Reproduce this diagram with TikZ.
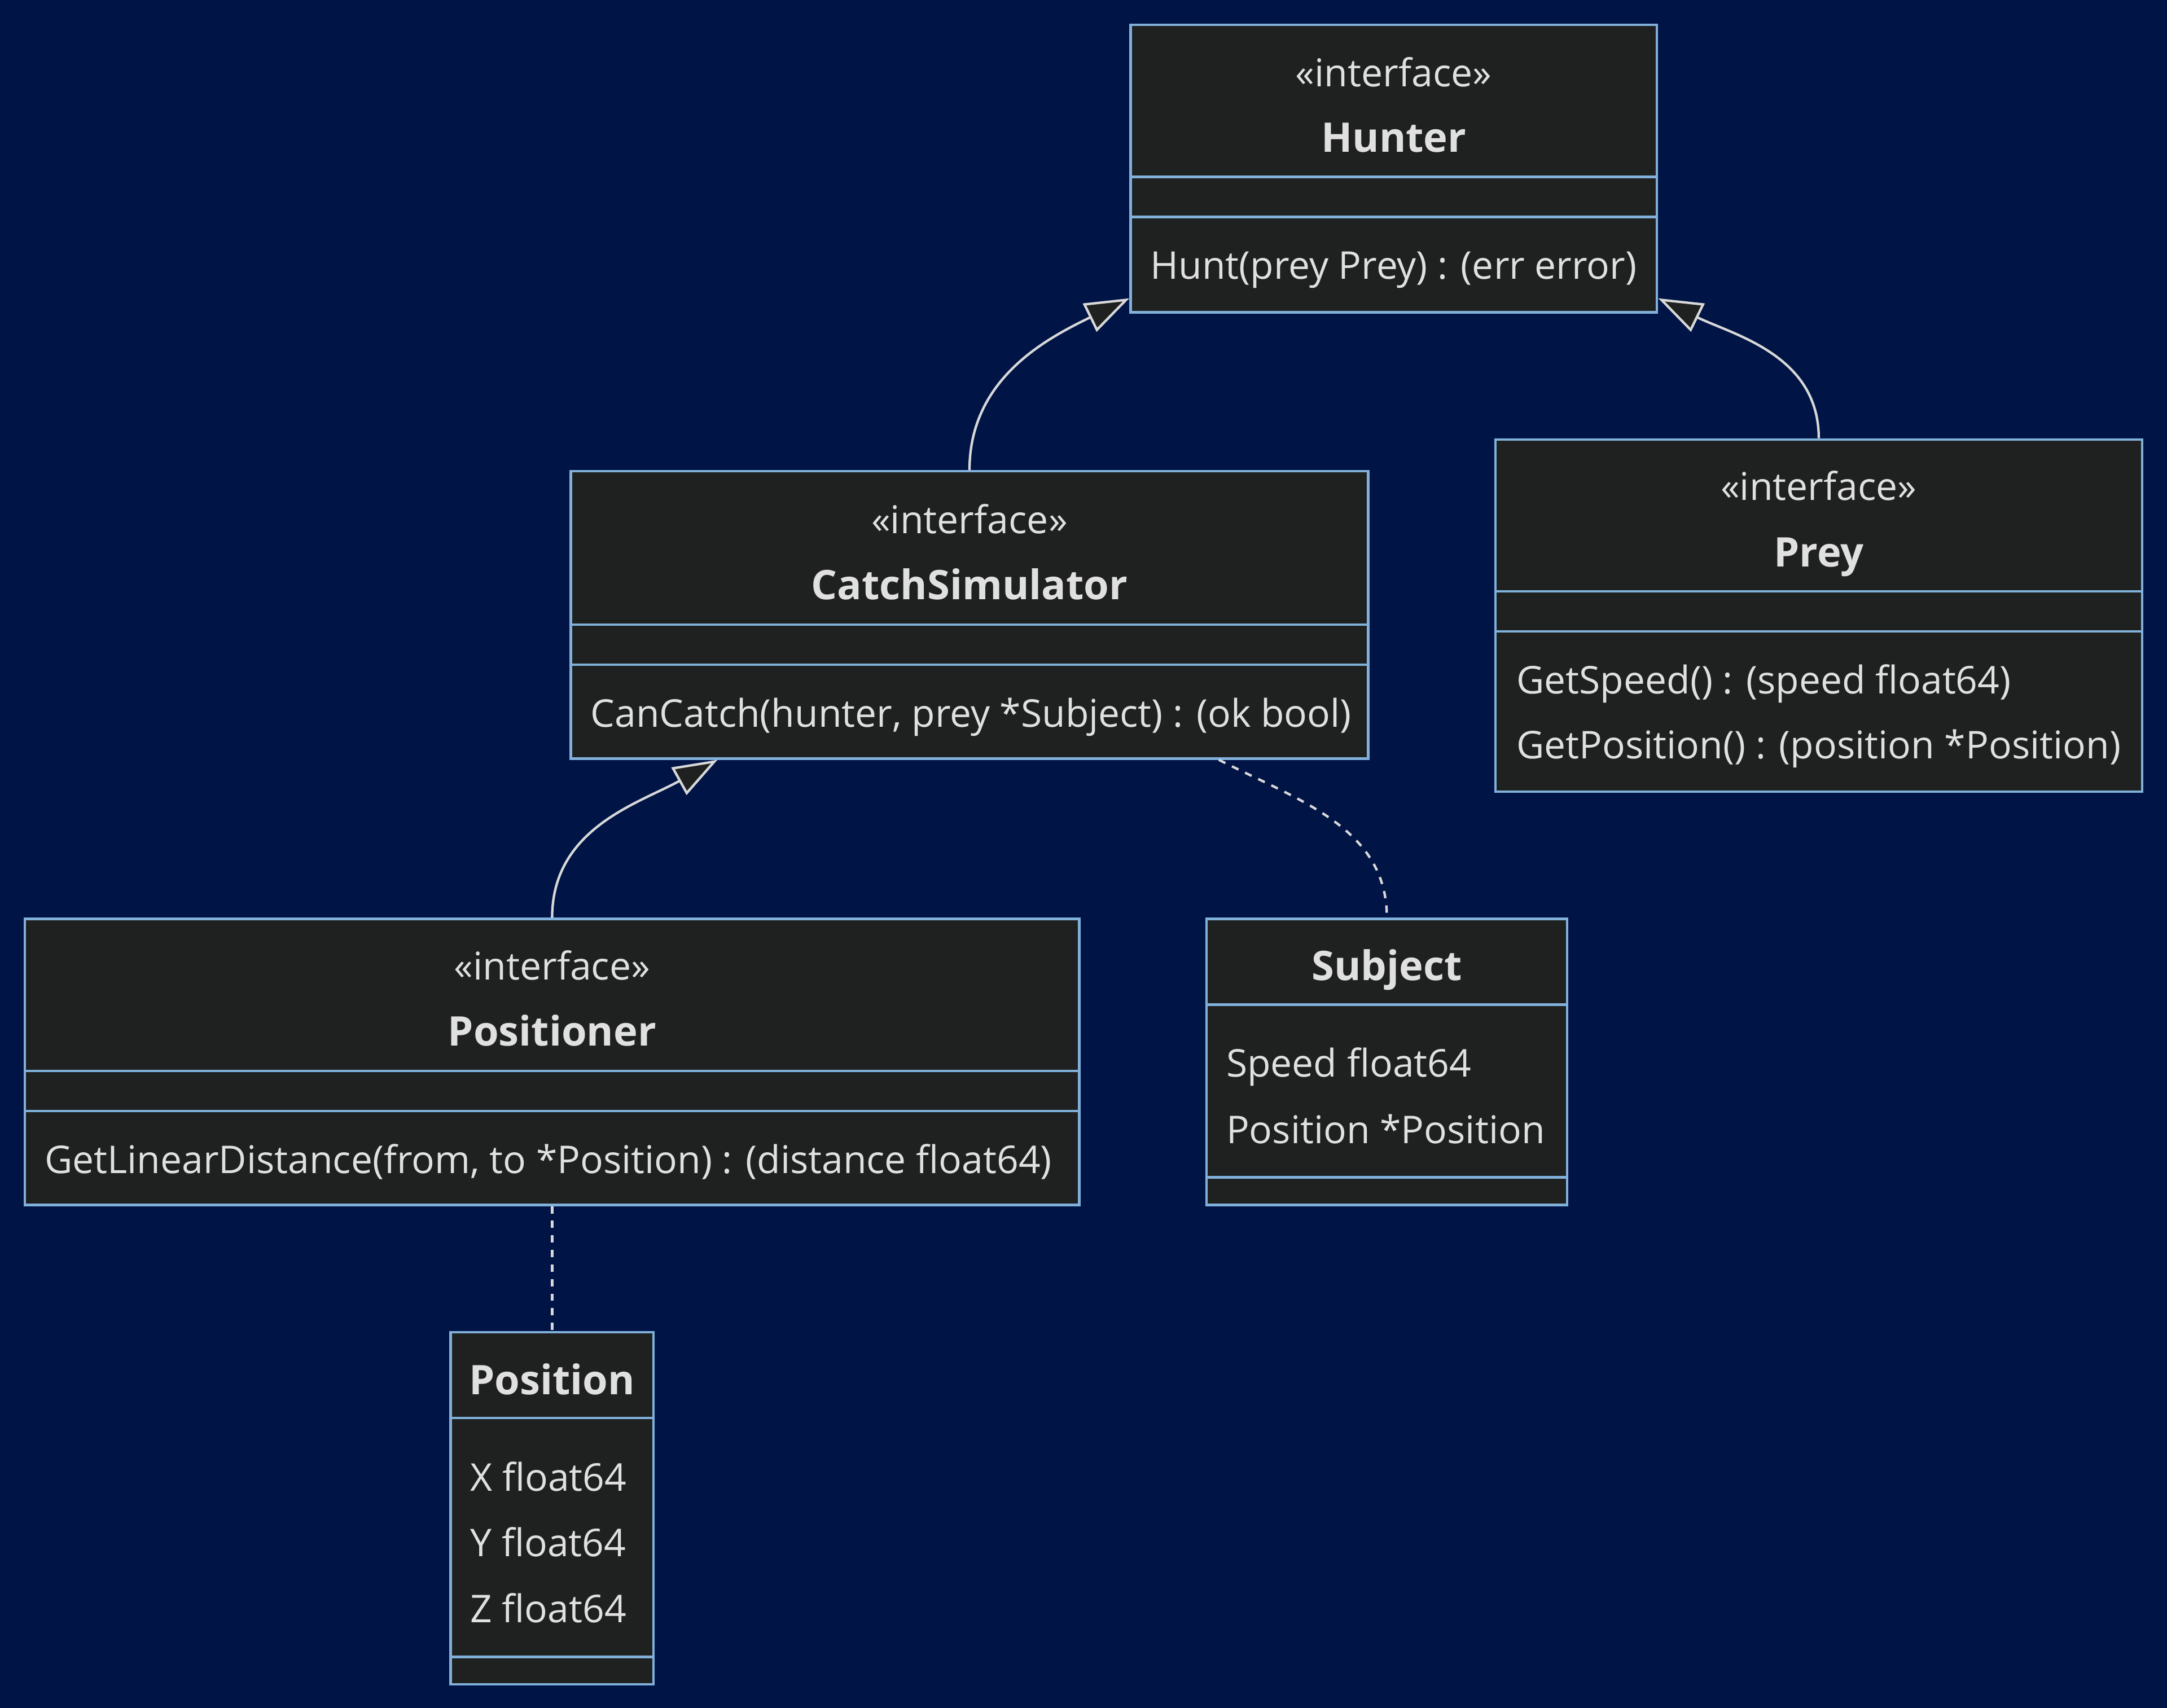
\documentclass[tikz,border=0pt]{standalone}
\usepackage{fontspec}
\setmainfont{Open Sans}
\usetikzlibrary{arrows.meta}

\definecolor{bgnavy}{HTML}{001446}
\definecolor{boxfill}{HTML}{1F2020}
\definecolor{boxline}{HTML}{81B1DB}
\definecolor{txtgray}{HTML}{E0E0E0}
\definecolor{edgegray}{HTML}{D8D8D8}

\tikzset{
  classbox/.style={rectangle, draw=boxline, fill=boxfill, line width=1pt, inner sep=0pt},
  divider/.style={draw=boxline, line width=1pt},
  stereo/.style={text=txtgray, inner sep=0pt, anchor=base, font=\fontsize{15.8}{19}\selectfont},
  classname/.style={stereo, font=\fontsize{16.8}{20}\selectfont\bfseries},
  member/.style={text=txtgray, inner sep=0pt, anchor=base west, font=\fontsize{15.75}{19}\selectfont},
  realize/.style={draw=edgegray, line width=1pt, -{Triangle[length=0.64cm, width=0.45cm, fill=boxfill]}},
  assoc/.style={draw=edgegray, line width=1pt, dash pattern=on 3pt off 3pt}
}

\begin{document}
\begin{tikzpicture}[x=0.02cm, y=-0.02cm]

% Background
\fill[bgnavy] (0,0) rectangle (1568,1236);
\useasboundingbox (0,0) rectangle (1568,1236);

% Hunter
\node[classbox, minimum width=7.62cm, minimum height=4.16cm] (hunter) at (1008.5,122) {};
\draw[divider] (818,128) -- (1199,128);
\draw[divider] (818,157) -- (1199,157);
\node[stereo] (hunterStereo) at (1008.5,62.5) {«interface»};
\node[classname] (hunterName) at (1008.5,110) {Hunter};
\node[member] (hunterHunt) at (832,202) {Hunt(prey Prey) : (err error)};

% CatchSimulator
\node[classbox, minimum width=11.54cm, minimum height=4.16cm] (catch) at (701.5,445) {};
\draw[divider] (413,452) -- (990,452);
\draw[divider] (413,481) -- (990,481);
\node[stereo] (catchStereo) at (701.5,386) {«interface»};
\node[classname] (catchName) at (701.5,434) {CatchSimulator};
\node[member] (catchCanCatch) at (427,526) {CanCatch(hunter, prey *Subject) : (ok bool)};

% Prey
\node[classbox, minimum width=9.36cm, minimum height=5.10cm] (prey) at (1316,445.5) {};
\draw[divider] (1082,428) -- (1550,428);
\draw[divider] (1082,457) -- (1550,457);
\node[stereo] (preyStereo) at (1316,362) {«interface»};
\node[classname] (preyName) at (1316,410) {Prey};
\node[member] (preySpeed) at (1097,502) {GetSpeed() : (speed float64)};
\node[member] (preyPosition) at (1097,549) {GetPosition() : (position *Position)};

% Positioner
\node[classbox, minimum width=15.26cm, minimum height=4.14cm] (positioner) at (399.5,768.5) {};
\draw[divider] (18,775) -- (781,775);
\draw[divider] (18,804) -- (781,804);
\node[stereo] (positionerStereo) at (399.5,709) {«interface»};
\node[classname] (positionerName) at (399.5,757) {Positioner};
\node[member] (positionerDist) at (32,849) {GetLinearDistance(from, to *Position) : (distance float64)};

% Subject
\node[classbox, minimum width=5.22cm, minimum height=4.14cm] (subject) at (1003.5,768.5) {};
\draw[divider] (873,727) -- (1134,727);
\draw[divider] (873,852) -- (1134,852);
\node[classname] (subjectName) at (1003.5,709.5) {Subject};
\node[member] (subjectSpeed) at (887,779.5) {Speed float64};
\node[member] (subjectPosition) at (887,827.5) {Position *Position};

% Position
\node[classbox, minimum width=2.94cm, minimum height=5.10cm] (position) at (399.5,1091.5) {};
\draw[divider] (326,1026) -- (473,1026);
\draw[divider] (326,1199) -- (473,1199);
\node[classname] (positionName) at (399.5,1009) {Position};
\foreach \v/\yy in {X/1079,Y/1126.5,Z/1174}
    \node[member] (position\v) at (340,\yy) {\v\ float64};

% Relations
\draw[realize] (catch.north) to[out=90, in=206] ([yshift=0.22cm]hunter.south west);
\draw[realize] (prey.north) to[out=90, in=-26] ([yshift=0.22cm]hunter.south east);
\draw[realize] (positioner.north) to[out=90, in=209] ([xshift=2.14cm]catch.south west);
\draw[assoc] ([xshift=3.61cm]catch.south) to[out=-27, in=90] (subject.north);
\draw[assoc] (positioner.south) -- (position.north);

\end{tikzpicture}
\end{document}
